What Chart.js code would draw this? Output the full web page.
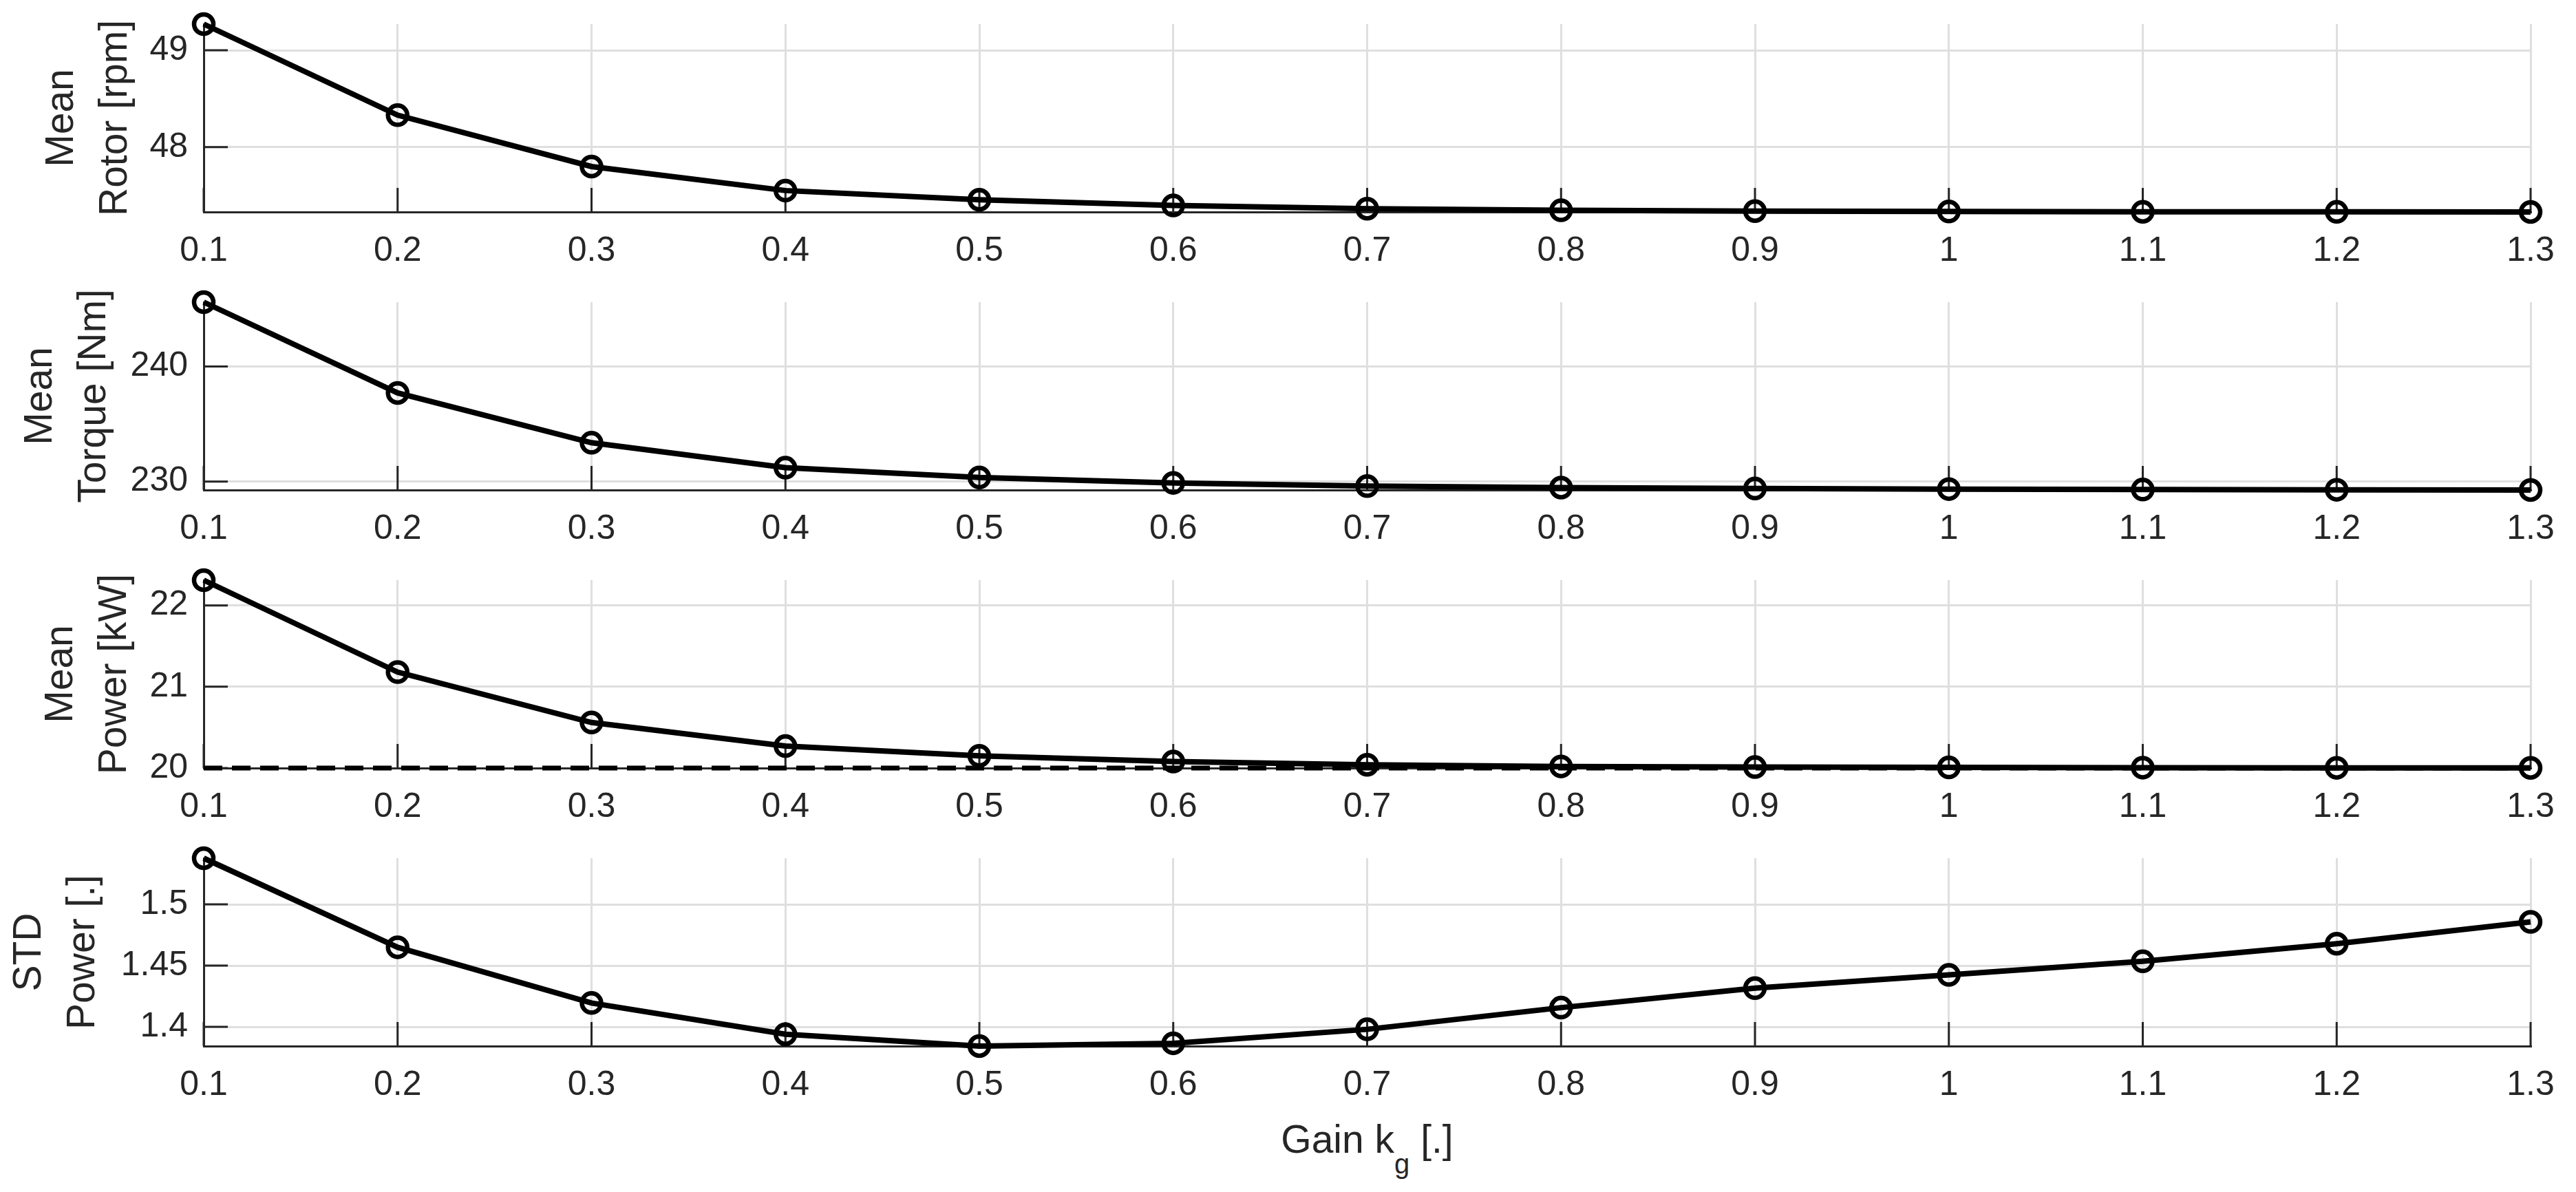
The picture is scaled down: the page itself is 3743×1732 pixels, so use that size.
<!DOCTYPE html>
<html>
<head>
<meta charset="utf-8">
<script src="https://cdn.jsdelivr.net/npm/chart.js@4.4.1/dist/chart.umd.min.js"></script>
<style>
  html, body { margin: 0; padding: 0; background: #ffffff; }
  #wrap { position: relative; width: 3743px; height: 1732px; overflow: hidden; background: #ffffff; }
  .panel { position: absolute; left: 0; width: 3743px; height: 404px; }
  #xlabel {
    position: absolute; left: 296px; width: 3381px; top: 1627px;
    text-align: center; font-family: 'Liberation Sans', Arial, Helvetica, sans-serif;
    font-size: 57px; line-height: 57px; color: #262626; white-space: nowrap;
  }
  #xlabel .sub { font-size: 40px; position: relative; top: 30px; }
</style>
</head>
<body>
<div id="wrap">
  <div class="panel" style="top:0px"><canvas id="c1"></canvas></div>
  <div class="panel" style="top:404px"><canvas id="c2"></canvas></div>
  <div class="panel" style="top:808px"><canvas id="c3"></canvas></div>
  <div class="panel" style="top:1212px"><canvas id="c4"></canvas></div>
  <div id="xlabel">Gain k<span class="sub">g</span> [.]</div>
</div>
<script>
// ---- data ----
const gains = [0.1, 0.2, 0.3, 0.4, 0.5, 0.6, 0.7, 0.8, 0.9, 1.0, 1.1, 1.2, 1.3];
const xTickLabels = ['0.1', '0.2', '0.3', '0.4', '0.5', '0.6', '0.7', '0.8', '0.9', '1', '1.1', '1.2', '1.3'];

const rotorMean  = [49.27, 48.33, 47.80, 47.552, 47.457, 47.398, 47.365, 47.348, 47.340, 47.336, 47.333, 47.332, 47.331];
const torqueMean = [245.6, 237.7, 233.37, 231.2, 230.35, 229.88, 229.60, 229.47, 229.39, 229.34, 229.30, 229.28, 229.26];
const powerMean  = [22.31, 21.18, 20.56, 20.27, 20.15, 20.08, 20.04, 20.02, 20.012, 20.008, 20.005, 20.003, 20.002];
const powerRef   = [20, 20, 20, 20, 20, 20, 20, 20, 20, 20, 20, 20, 20];
const powerStd   = [1.5377, 1.465, 1.4195, 1.394, 1.3843, 1.3866, 1.398, 1.4157, 1.4316, 1.4424, 1.4535, 1.4679, 1.4857];

const rotorTicks  = [48, 49];
const rotorTickLabels = ['48', '49'];
const torqueTicks = [230, 240];
const torqueTickLabels = ['230', '240'];
const powerTicks  = [20, 21, 22];
const powerTickLabels = ['20', '21', '22'];
const stdTicks    = [1.4, 1.45, 1.5];
const stdTickLabels = ['1.4', '1.45', '1.5'];

const rotorLabel  = ['Mean', 'Rotor [rpm]'];
const torqueLabel = ['Mean', 'Torque [Nm]'];
const powerLabel  = ['Mean', 'Power [kW]'];
const stdLabel    = ['STD', 'Power [.]'];

// ---- styling / layout ----
const FONT = "'Liberation Sans', Arial, Helvetica, sans-serif";
const TEXT = '#262626';
const GRID = 'rgb(223,223,223)';
Chart.defaults.font.family = FONT;
Chart.defaults.color = TEXT;

const AXIS_LEFT = 296;
const PAD_TOP = 35;
const PAD_RIGHT = 66;
const XAXIS_H = 96;
const TICK_LEN = 35;

const inwardTicks = {
  id: 'inwardTicks',
  beforeDatasetsDraw(chart) {
    const { ctx, chartArea: a, scales: { x, y } } = chart;
    ctx.save();
    ctx.strokeStyle = TEXT;
    ctx.lineWidth = 3;
    ctx.beginPath();
    x.ticks.forEach(t => {
      const px = x.getPixelForValue(t.value);
      ctx.moveTo(px, a.bottom); ctx.lineTo(px, a.bottom - TICK_LEN);
    });
    y.ticks.forEach(t => {
      const py = y.getPixelForValue(t.value);
      ctx.moveTo(a.left, py); ctx.lineTo(a.left + TICK_LEN, py);
    });
    ctx.stroke();
    ctx.restore();
  }
};

function pts(vals) { return gains.map((g, i) => ({ x: g, y: vals[i] })); }

function makePanel(id, series, refSeries, yTicks, yTickLabels, label, titlePad) {
  const all = refSeries ? series.concat(refSeries) : series;
  const ymin = Math.min(...all), ymax = Math.max(...all);
  const datasets = [{
    data: pts(series),
    borderColor: '#000000', borderWidth: 8, tension: 0,
    pointStyle: 'circle', pointRadius: 14, pointBorderWidth: 6.5,
    pointBorderColor: '#000000', pointBackgroundColor: 'rgba(0,0,0,0)',
    clip: false
  }];
  if (refSeries) {
    datasets.push({
      data: pts(refSeries),
      borderColor: '#000000', borderWidth: 7, borderDash: [27, 14], tension: 0,
      pointRadius: 0, clip: false
    });
  }
  return new Chart(document.getElementById(id), {
    type: 'line',
    data: { datasets },
    plugins: [inwardTicks],
    options: {
      responsive: true, maintainAspectRatio: false, animation: false,
      devicePixelRatio: 1,
      layout: { padding: { top: PAD_TOP, right: PAD_RIGHT, left: 0, bottom: 0 } },
      plugins: { legend: { display: false }, tooltip: { enabled: false } },
      scales: {
        x: {
          type: 'linear', min: gains[0], max: gains[gains.length - 1],
          afterBuildTicks: s => { s.ticks = gains.map(v => ({ value: v })); },
          afterFit: s => { s.height = XAXIS_H; s.paddingLeft = 0; s.paddingRight = 0; },
          ticks: {
            callback: (v, i) => xTickLabels[i], autoSkip: false, maxRotation: 0,
            font: { size: 50 }, color: TEXT, padding: 27
          },
          grid: { color: GRID, lineWidth: 3, drawTicks: false },
          border: { display: true, color: TEXT, width: 3 }
        },
        y: {
          type: 'linear', min: ymin, max: ymax,
          afterBuildTicks: s => { s.ticks = yTicks.map(v => ({ value: v })); },
          afterFit: s => { s.width = AXIS_LEFT; s.paddingTop = 0; s.paddingBottom = 0; },
          ticks: {
            callback: (v, i) => yTickLabels[i], autoSkip: false,
            font: { size: 50 }, color: TEXT, padding: 23
          },
          grid: { color: GRID, lineWidth: 3, drawTicks: false },
          border: { display: true, color: TEXT, width: 3 },
          title: {
            display: true, text: label, color: TEXT,
            font: { size: 57, lineHeight: 1.36 },
            padding: { top: titlePad, bottom: 0 }
          }
        }
      }
    }
  });
}

makePanel('c1', rotorMean, null, rotorTicks, rotorTickLabels, rotorLabel, 52);
makePanel('c2', torqueMean, null, torqueTicks, torqueTickLabels, torqueLabel, 21);
makePanel('c3', powerMean, powerRef, powerTicks, powerTickLabels, powerLabel, 51);
makePanel('c4', powerStd, null, stdTicks, stdTickLabels, stdLabel, 5);
</script>
</body>
</html>
